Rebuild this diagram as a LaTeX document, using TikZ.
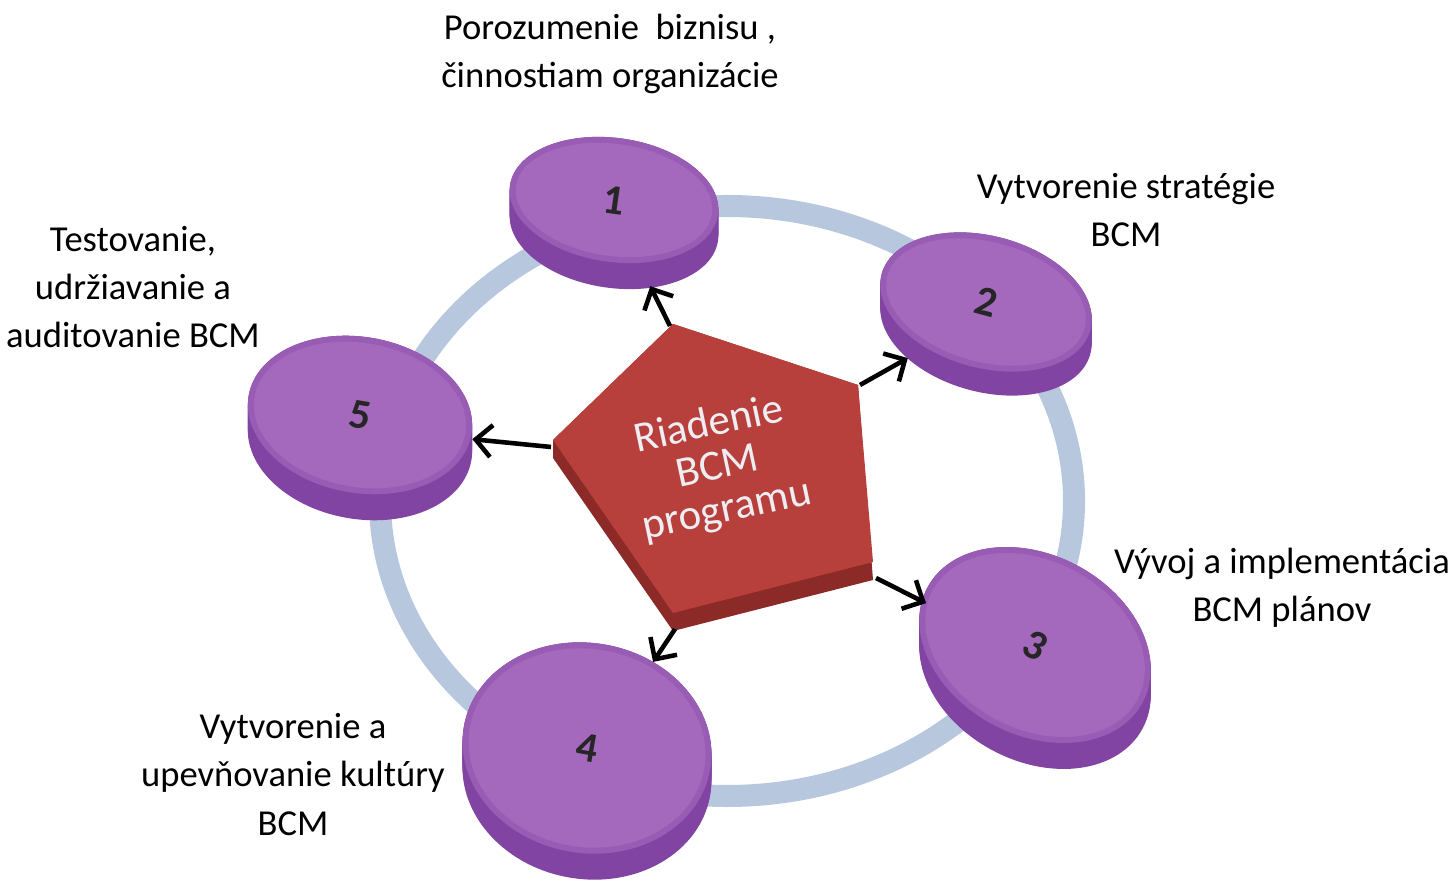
\documentclass[tikz,border=0pt]{standalone}
\usepackage{fontspec}
\setmainfont{Carlito}
\usetikzlibrary{arrows.meta,shapes.geometric}
\definecolor{ringcol}{RGB}{182,199,222}
\definecolor{diskface}{RGB}{164,105,189}
\definecolor{diskrim}{RGB}{152,92,180}
\definecolor{diskside}{RGB}{130,68,162}
\definecolor{pentface}{RGB}{184,64,60}
\definecolor{pentside}{RGB}{140,42,40}
\definecolor{penttext}{RGB}{238,238,242}
\tikzset{
  >={Straight Barb[length=1.6mm,width=3.2mm]},
  ring/.style={draw=ringcol,line width=0.22cm},
  diskhit/.style={ellipse,inner sep=0pt,outer sep=0pt},
  disknum/.style={font=\large\bfseries,text=black!85},
  flow/.style={->,line width=1.3pt,black},
  lbl/.style={align=center,font=\fontsize{10.4}{13.7}\selectfont,
    anchor=base,inner sep=0pt},
  pentlbl/.style={align=center,text=penttext,
    font=\fontsize{12.2}{12.4}\selectfont},
}
\begin{document}
\begin{tikzpicture}[x=0.01cm,y=0.01cm]
  \useasboundingbox (0,0) rectangle (1452,891);
  % ring behind everything
  \draw[ring] (727,390) circle [x radius=347, y radius=295];
  % disks: number/x/y/rx/ry/tilt/thickness
  \foreach \i/\x/\y/\a/\b/\r/\t in {1/614/691/105/62/-8/26,
      2/986/589/108/66/-15/24, 3/1035/246/122/90/-28/26,
      4/587/143/125/105/-10/26, 5/360/476/113/78/-10/26}{
    \foreach \k in {0,2,...,\t}
      \fill[diskside] (\x,\y-\k) circle [x radius=\a, y radius=\b, rotate=\r];
    \fill[diskrim] (\x,\y) circle [x radius=\a, y radius=\b, rotate=\r];
    \fill[diskface] (\x,\y) circle [x radius=\a-6, y radius=\b-6, rotate=\r];
    \node[diskhit,rotate=\r,minimum width=\a*0.02cm,
      minimum height={(2*\b+\t)*0.01cm}] (d\i) at (\x,\y-\t/2) {};
    \node[disknum,rotate=\r] (n\i) at (\x,\y) {\i};
  }
  % center pentagon
  \fill[pentside] (673,567) -- (858,506) -- (873,311) -- (673,260)
    -- (553,433) -- (553,451) -- cycle;
  \fill[pentface] (673,567) -- (858,506) -- (873,329) -- (673,278)
    -- (553,451) -- cycle;
  \node[pentlbl,rotate=12] (hub) at (718,423) {Riadenie\\BCM\\programu};
  \coordinate (p1) at (670,565);
  \coordinate (p2) at (860,506);
  \coordinate (p3) at (876,313);
  \coordinate (p4) at (675,262);
  \coordinate (p5) at (551,444);
  \foreach \i in {1,...,5}
    \draw[flow] (p\i) -- (d\i);
  % labels (anchored at the last baseline)
  \node[lbl] (l1) at (610,803) {Porozumenie\ \ biznisu ,\\činnostiam organizácie};
  \node[lbl] (l2) at (1126,644) {Vytvorenie stratégie\\BCM};
  \node[lbl] (l3) at (1282,269) {Vývoj a implementácia\\BCM plánov};
  \node[lbl] (l4) at (293,56) {Vytvorenie a\\upevňovanie kultúry\\BCM};
  \node[lbl] (l5) at (133,543) {Testovanie,\\udržiavanie a\\auditovanie BCM};
\end{tikzpicture}
\end{document}
